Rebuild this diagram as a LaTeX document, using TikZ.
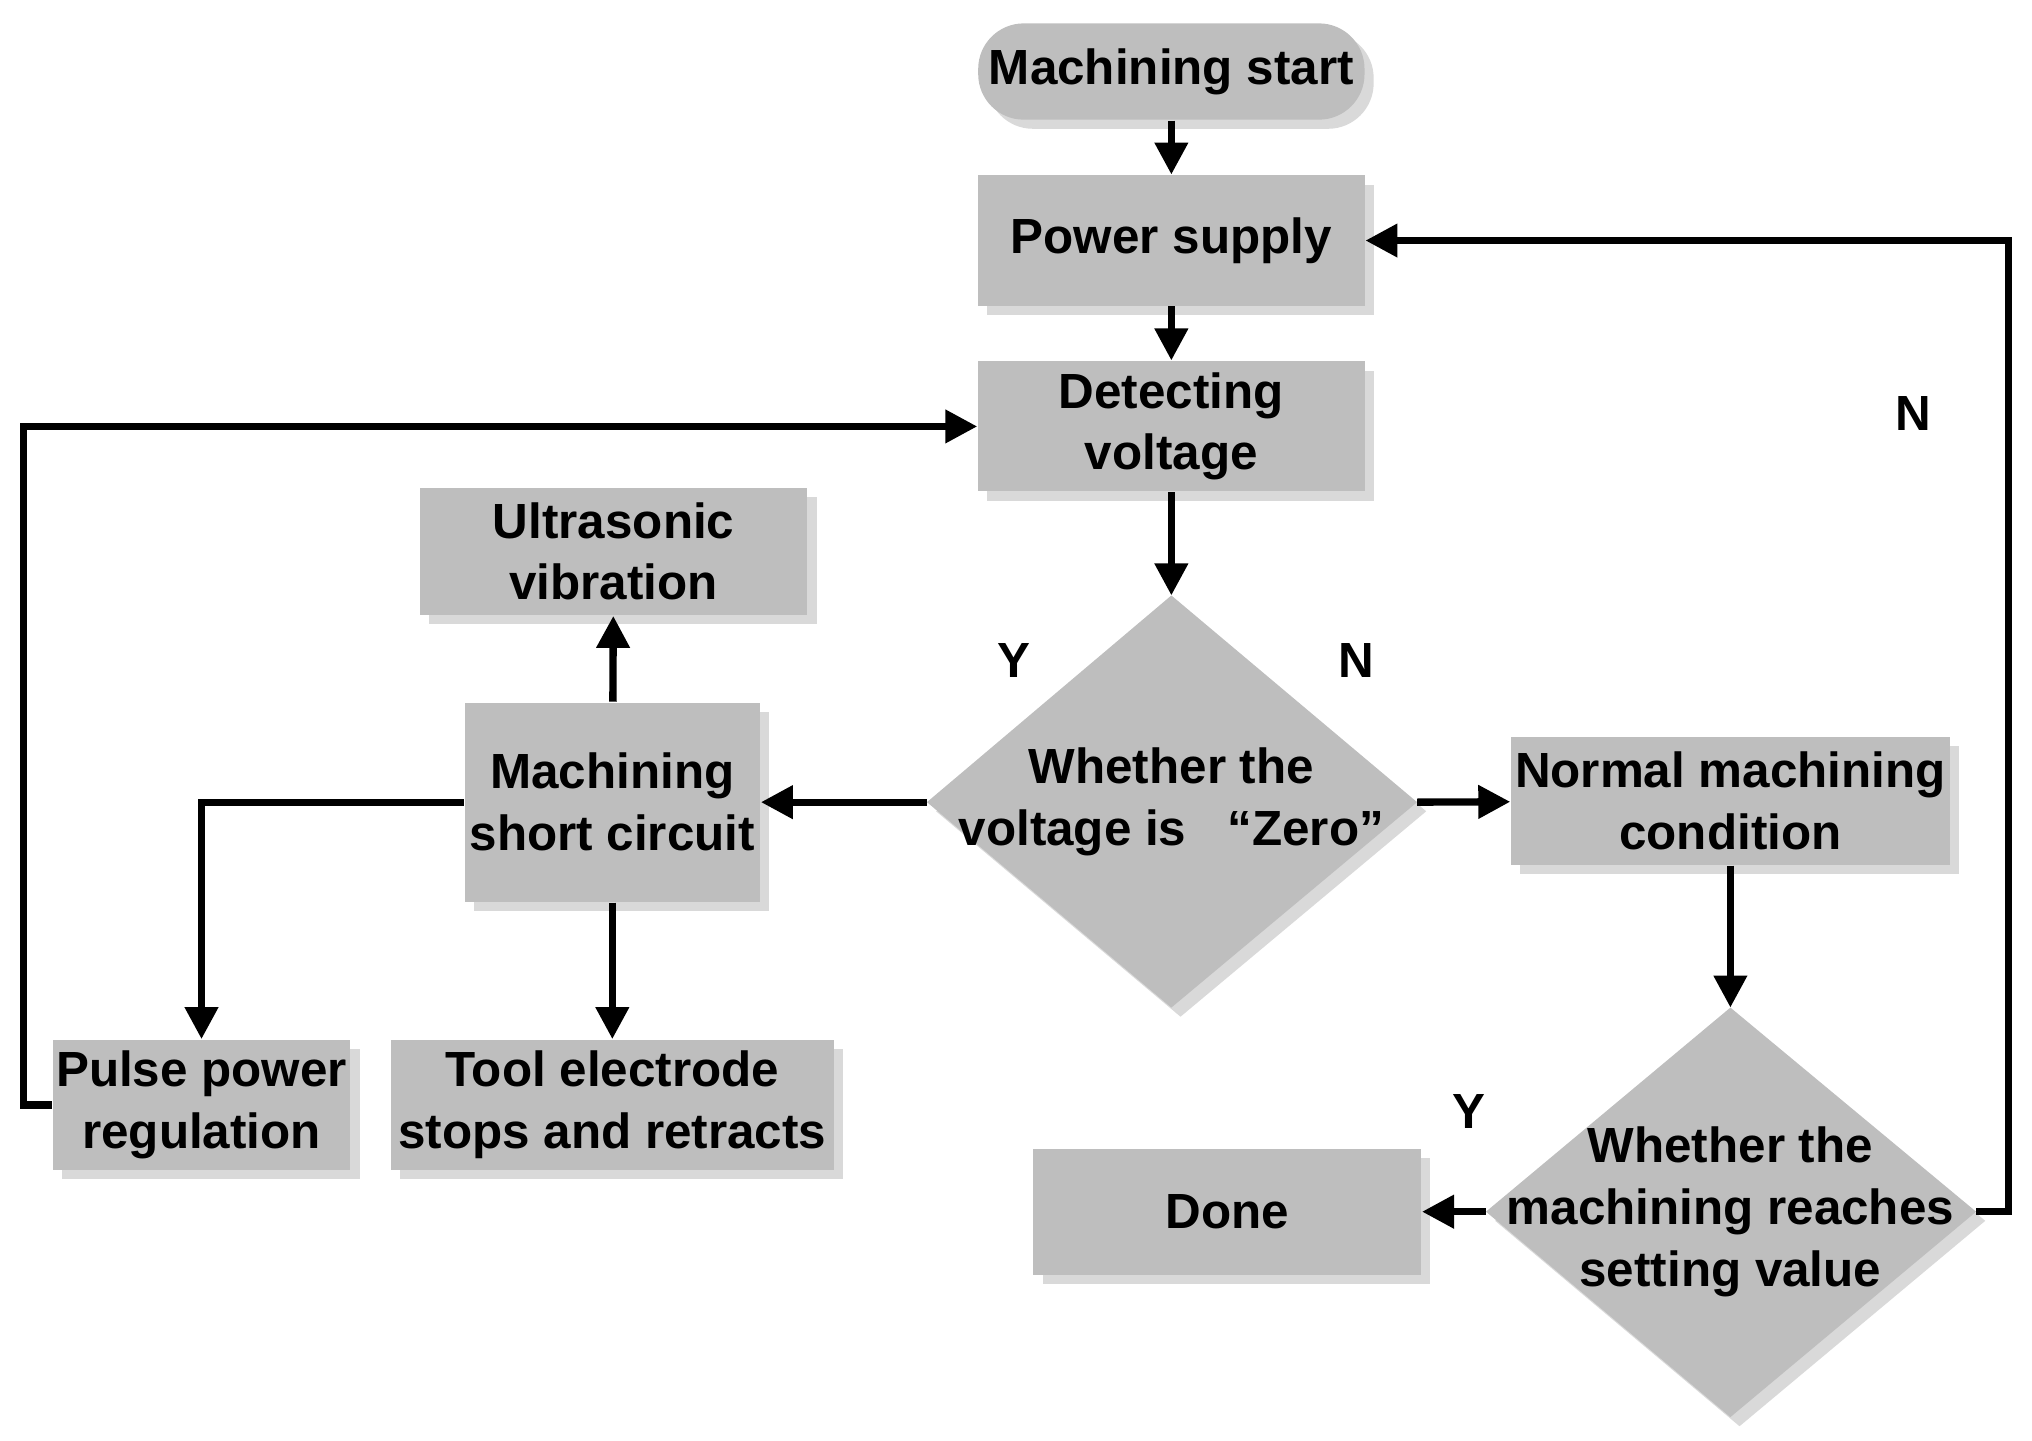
\documentclass[tikz,border=0pt]{standalone}
\usepackage{fontspec}
\setmainfont{Liberation Sans}
\usetikzlibrary{shapes.geometric,arrows.meta,shadows}
\definecolor{boxg}{RGB}{190,190,190}
\begin{document}
\begin{tikzpicture}[x=0.01cm,y=-0.01cm,
 font=\bfseries\fontsize{10.8}{13.5}\selectfont,
 every node/.style={align=center,inner sep=0pt},
 sh/.style={drop shadow={shadow xshift=2pt,shadow yshift=-2pt,fill=black!15,opacity=1}},
 box/.style={rectangle,fill=boxg,sh},
 dia/.style={fill=boxg,sh},
 ar/.style={-{Triangle[length=7pt,width=7pt]},line width=1.6pt}]
\useasboundingbox (0,0) rectangle (1563,1108);
\node[box,rounded corners=0.35cm,minimum width=2.97cm,minimum height=0.74cm] (start) at (901,55) {Machining start};
\node[box,minimum width=2.97cm,minimum height=1cm] (power) at (901,185) {Power supply};
\node[box,minimum width=2.97cm,minimum height=1cm] (detect) at (901,328) {Detecting\\voltage};
\fill[dia] (901,458) -- (1090,617) -- (901,775) -- (713,617) -- cycle;
\coordinate (d1n) at (901,458); \coordinate (d1w) at (713,617); \coordinate (d1e) at (1090,617);
\node (d1) at (901,617) {Whether the\\voltage is \ \ “Zero”};
\node[box,minimum width=2.98cm,minimum height=0.98cm] (ultra) at (472,424) {Ultrasonic\\vibration};
\node[box,minimum width=2.27cm,minimum height=1.53cm] (short) at (471,617) {Machining\\short circuit};
\node[box,minimum width=3.37cm,minimum height=0.98cm] (normal) at (1331,616) {Normal machining\\condition};
\fill[dia] (1331,775) -- (1520,932) -- (1331,1090) -- (1143,932) -- cycle;
\coordinate (d2n) at (1331,775); \coordinate (d2w) at (1143,932); \coordinate (d2e) at (1520,932);
\node (d2) at (1331,932) {Whether the\\machining reaches\\setting value};
\node[box,minimum width=2.98cm,minimum height=0.97cm] (done) at (944,932) {Done};
\node[box,minimum width=2.29cm,minimum height=1cm] (pulse) at (155,850) {Pulse power\\regulation};
\node[box,minimum width=3.41cm,minimum height=1cm] (tool) at (471,850) {Tool electrode\\stops and retracts};
\node at (780,508) {Y};
\node at (1043,508) {N};
\node at (1472,318) {N};
\node at (1130,855) {Y};
\draw[ar] (start) -- (power);
\draw[ar] (power) -- (detect);
\draw[ar] (detect) -- (d1n);
\draw[ar] (d1w) -- (short);
\draw[ar] (d1e) -- (normal);
\draw[ar] (normal) -- (d2n);
\draw[ar] (d2w) -- (done);
\coordinate (c1) at (1545,932); \coordinate (c2) at (1545,185);
\draw[ar] (d2e) -- (c1) -- (c2) -- (power.east);
\draw[ar] (short) -- (ultra);
\draw[ar] (short) -- (tool);
\coordinate (c3) at (155,617);
\draw[ar] (short.west) -- (c3) -- (pulse.north);
\coordinate (c4) at (18,850); \coordinate (c5) at (18,328);
\draw[ar] (pulse.west) -- (c4) -- (c5) -- (detect.west);
\end{tikzpicture}
\end{document}
